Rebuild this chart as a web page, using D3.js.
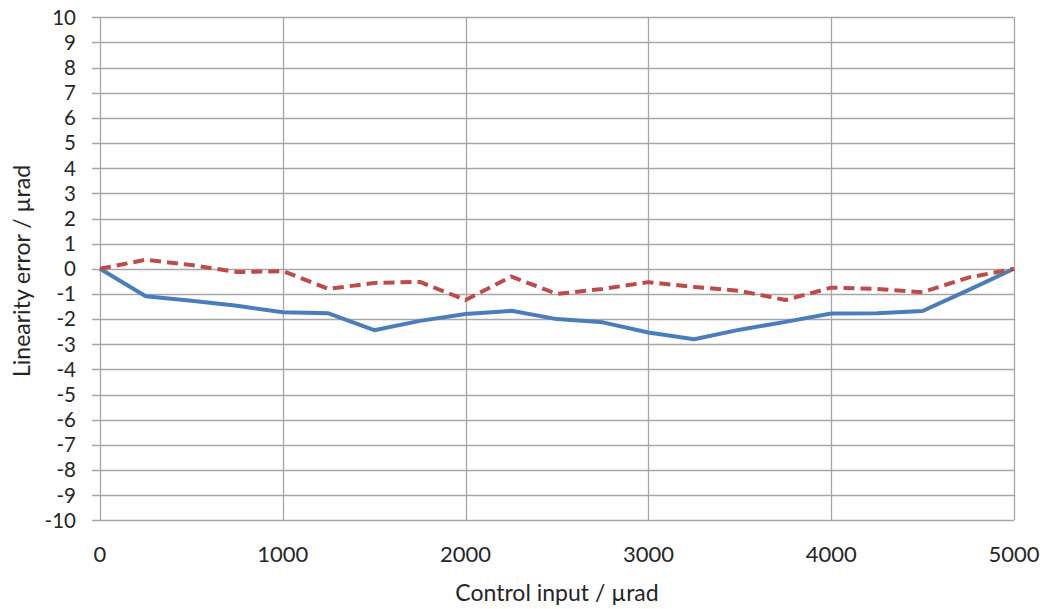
<!DOCTYPE html>
<html><head><meta charset="utf-8">
<script src="https://cdn.jsdelivr.net/npm/d3@7"></script>
<style>body{margin:0;background:#fff;} text{font-family:Lato,"Open Sans",sans-serif;fill:#262626;}</style>
</head><body>
<svg id="c" width="1044" height="609"></svg>
<script>
const xValues = [0,250,500,750,1000,1250,1500,1750,2000,2250,2500,2750,3000,3250,3500,3750,4000,4250,4500,4750,5000];
const solidSeries = [0,-1.09,-1.27,-1.47,-1.73,-1.77,-2.44,-2.07,-1.8,-1.67,-2.0,-2.13,-2.53,-2.8,-2.42,-2.11,-1.78,-1.77,-1.68,-0.85,0];
const dashedSeries = [0,0.36,0.15,-0.13,-0.09,-0.8,-0.56,-0.52,-1.24,-0.31,-1.0,-0.8,-0.53,-0.72,-0.88,-1.24,-0.75,-0.8,-0.93,-0.35,0];
const xTicks = [0,1000,2000,3000,4000,5000];
const yTicks = d3.range(-10,11,1);
const xLabel = "Control input / µrad";
const yLabel = "Linearity error / µrad";

const svg = d3.select("#c");
const L=100,R=1014,T=17.3,B=520.3;
const x = d3.scaleLinear().domain([0,5000]).range([L,R]);
const y = d3.scaleLinear().domain([-10,10]).range([B,T]);
const grid="#a6a6a6";
const fs=23;

svg.append("g").selectAll("line").data(yTicks).join("line")
 .attr("x1",L-8).attr("x2",R).attr("y1",d=>Math.round(y(d))+0.5).attr("y2",d=>Math.round(y(d))+0.5)
 .attr("stroke",grid).attr("stroke-width",1.3);
svg.append("g").selectAll("line").data(xTicks).join("line")
 .attr("x1",d=>Math.round(x(d))+0.5).attr("x2",d=>Math.round(x(d))+0.5).attr("y1",T).attr("y2",B)
 .attr("stroke",grid).attr("stroke-width",1.3);

svg.append("g").selectAll("text").data(yTicks).join("text")
 .attr("x",76).attr("y",d=>y(d)).attr("dy","0.36em").attr("text-anchor","end")
 .attr("font-size",20.5).text(d=>d);
svg.append("g").selectAll("text").data(xTicks).join("text")
 .attr("x",d=>x(d)).attr("y",562).attr("text-anchor","middle")
 .attr("font-size",22).text(d=>d);

const line = d3.line().x((d,i)=>x(xValues[i])).y(d=>y(d));
svg.append("path").datum(solidSeries).attr("d",line).attr("fill","none")
 .attr("stroke","#4a7ebb").attr("stroke-width",4).attr("stroke-linejoin","round");
svg.append("path").datum(dashedSeries).attr("d",line).attr("fill","none")
 .attr("stroke","#be4b48").attr("stroke-width",4).attr("stroke-dasharray","11,6").attr("stroke-linejoin","round");

svg.append("text").attr("x",557).attr("y",601).attr("text-anchor","middle").attr("font-size",fs).text(xLabel);
svg.append("text").attr("transform","translate(30,271) rotate(-90)").attr("text-anchor","middle").attr("font-size",fs).text(yLabel);
</script>
</body></html>
